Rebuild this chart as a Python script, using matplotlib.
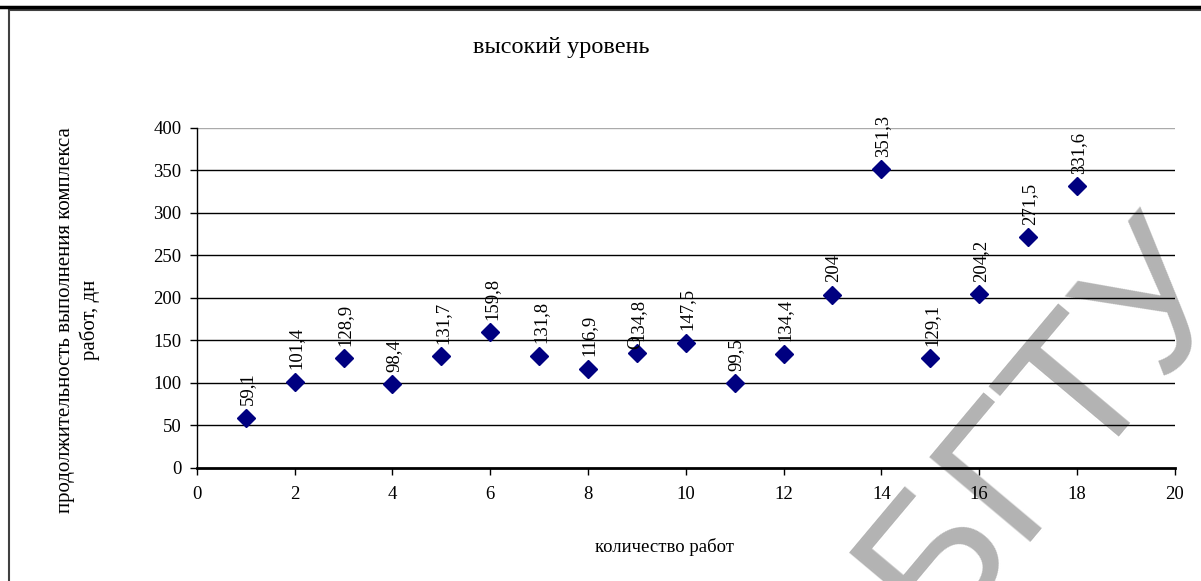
import numpy as np
import matplotlib.pyplot as plt
from matplotlib.patches import Rectangle
from matplotlib.lines import Line2D

plt.rcParams['font.family'] = ['Liberation Serif', 'DejaVu Serif']

# количество работ и продолжительность (дн)
works = [1, 2, 3, 4, 5, 6, 7, 8, 9, 10, 11, 12, 13, 14, 15, 16, 17, 18]
duration = [59.1, 101.4, 128.9, 98.4, 131.7, 159.8, 131.8, 116.9, 134.8,
            147.5, 99.5, 134.4, 204, 351.3, 129.1, 204.2, 271.5, 331.6]
x_ticks = [0, 2, 4, 6, 8, 10, 12, 14, 16, 18, 20]
y_ticks = [0, 50, 100, 150, 200, 250, 300, 350, 400]

fig = plt.figure(figsize=(12.01, 5.81), dpi=100)

# рамка диаграммы и линия страницы
fig.add_artist(Line2D([0, 1], [0.988, 0.988], color='black', lw=2.5,
                      transform=fig.transFigure))
fig.add_artist(Rectangle((0.0075, -0.05), 1.1, 1.033, fill=False,
                         edgecolor='#404040', lw=1.5, transform=fig.transFigure))

# водяной знак
fig.text(0.872, 0.265, 'БГТУ', family='Liberation Sans', fontsize=138,
         color='#b3b3b3', rotation=50, ha='center', va='center',
         rotation_mode='anchor', zorder=-1)

ax = fig.add_axes([0.164, 0.1945, 0.814, 0.5852])
ax.set_facecolor('none')

ax.plot(works, duration, linestyle='none', marker='D', ms=9,
        color='#000080', zorder=3)

for x, y in zip(works, duration):
    lab = f'{y:g}'.replace('.', ',')
    ax.annotate(lab, (x, y), xytext=(1, 9), textcoords='offset points',
                rotation=90, ha='center', va='bottom', fontsize=13.5)
ax.annotate('O', (works[8], duration[8]), xytext=(-1, 3),
            textcoords='offset points', rotation=90, ha='center',
            va='bottom', fontsize=13.5)

ax.set_xlim(0, 20)
ax.set_ylim(0, 400)
ax.set_xticks(x_ticks)
ax.set_yticks(y_ticks)
ax.tick_params(labelsize=13.5, length=5, width=1, color='black')
ax.tick_params(axis='x', pad=8)
ax.tick_params(axis='y', pad=6)

for v in y_ticks[1:-1]:
    ax.axhline(v, color='black', lw=1, zorder=1)
ax.axhline(400, color='#aaaaaa', lw=1, zorder=1)

ax.spines['top'].set_visible(False)
ax.spines['right'].set_visible(False)
ax.spines['bottom'].set_linewidth(2)
ax.spines['left'].set_linewidth(1)

fig.text(0.467, 0.919, 'высокий уровень', ha='center', va='center',
         fontsize=17.5)
fig.text(0.553, 0.058, 'количество работ', ha='center', va='center',
         fontsize=13.5)
fig.text(0.065, 0.449, 'продолжительность выполнения комплекса\nработ, дн',
         ha='center', va='center', rotation=90, fontsize=15,
         linespacing=1.25)

fig.savefig('out.png', dpi=100)
